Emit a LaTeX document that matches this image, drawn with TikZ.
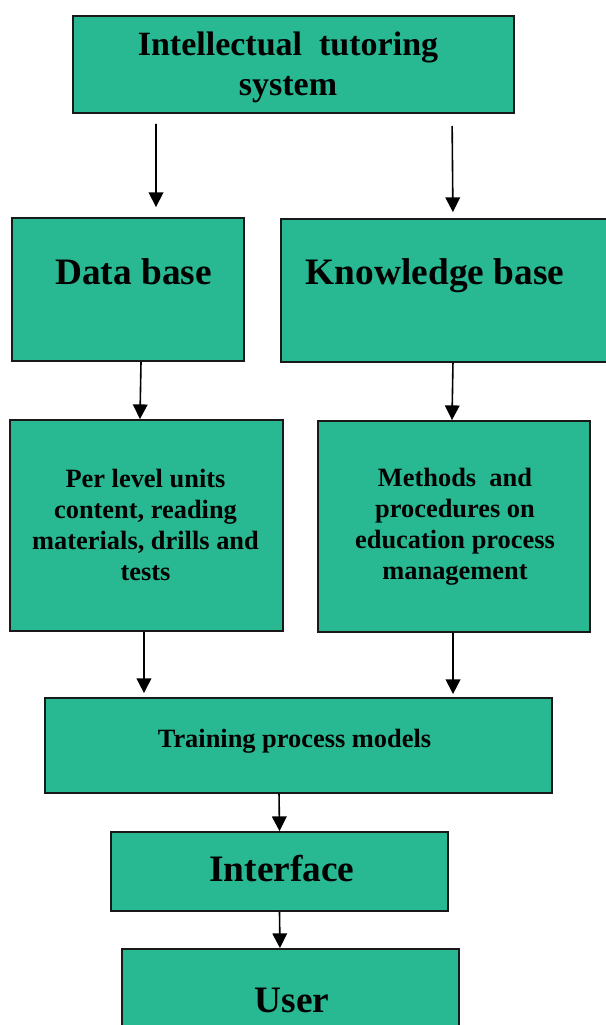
\documentclass[tikz,border=0pt]{standalone}
\usepackage{fontspec}
\setmainfont{Liberation Serif}
\usetikzlibrary{arrows.meta,fit}
\definecolor{boxgreen}{RGB}{40,185,146}
\colorlet{boxline}{black!90}

\begin{document}
\begin{tikzpicture}[
    x=0.75pt,
    y=-0.75pt,
    box/.style={draw=boxline,line width=1.4pt,fill=boxgreen,inner sep=0pt},
    bigtxt/.style={font=\fontsize{28}{30}\selectfont\bfseries,inner sep=0pt,anchor=base},
    midtxt/.style={font=\fontsize{19.8}{23.25}\selectfont\bfseries,align=center,inner sep=0pt},
    arr/.style={line width=1.2pt,-{Triangle[width=11pt,length=11pt]}}
]
    \useasboundingbox (0,0) rectangle (606,1025);
    \clip (0,0) rectangle (606,1025);
    % boxes
    \node[box,fit={(73,16) (514,113)}] (top) {};
    \node[box,fit={(12,218) (244,361)}] (db) {};
    \node[box,fit={(281,219) (614,362)}] (kb) {};
    \node[box,fit={(10,420) (283,631)}] (pl) {};
    \node[box,fit={(318,421) (590,632)}] (me) {};
    \node[box,fit={(45,698) (552,793)}] (tr) {};
    \node[box,fit={(111,832) (448,911)}] (in) {};
    \node[box,fit={(122,949) (459,1040)}] (us) {};
    % texts
    \node[
        font=\fontsize{25.5}{30}\selectfont\bfseries,
        align=center,
        inner sep=0pt
    ] (toptxt) at (288,67) {Intellectual\ \ tutoring\\system};
    \node[bigtxt] (dbtxt) at (133.5,284) {Data base};
    \node[bigtxt] (kbtxt) at (435,284) {Knowledge base};
    \node[midtxt] (pltxt) at (145.5,525) {Per level units\\content, reading\\materials, drills and\\tests};
    \node[midtxt] (metxt) at (455,527) {Methods\ \ and\\procedures on\\education process\\management};
    \node[midtxt,anchor=base] (trtxt) at (294.5,747) {Training process models};
    \node[bigtxt] (intxt) at (282,881) {Interface};
    \node[bigtxt] (ustxt) at (292,1012) {User};
    % arrows
    \draw[arr,shorten <=7.5pt,shorten >=7.5pt] ([xshift=-103.1pt]top.south) -- ([xshift=21pt]db.north);
    \draw[arr,shorten <=9pt,shorten >=4.5pt] ([xshift=118.9pt]top.south) -- ([xshift=4.1pt]kb.north);
    \draw[arr] ([xshift=9.75pt]db.south) -- ([xshift=-4.9pt]pl.north);
    \draw[arr] ([xshift=4.1pt]kb.south) -- ([xshift=-1.5pt]me.north);
    \draw[arr,shorten >=3pt] ([xshift=-1.9pt]pl.south) -- ([xshift=-115.9pt]tr.north);
    \draw[arr,shorten >=2.25pt] ([xshift=-0.75pt]me.south) -- ([xshift=115.9pt]tr.north);
    \draw[arr] ([xshift=-14.6pt]tr.south) -- (in.north);
    \draw[arr] (in.south) -- ([xshift=-7.9pt]us.north);
\end{tikzpicture}
\end{document}
